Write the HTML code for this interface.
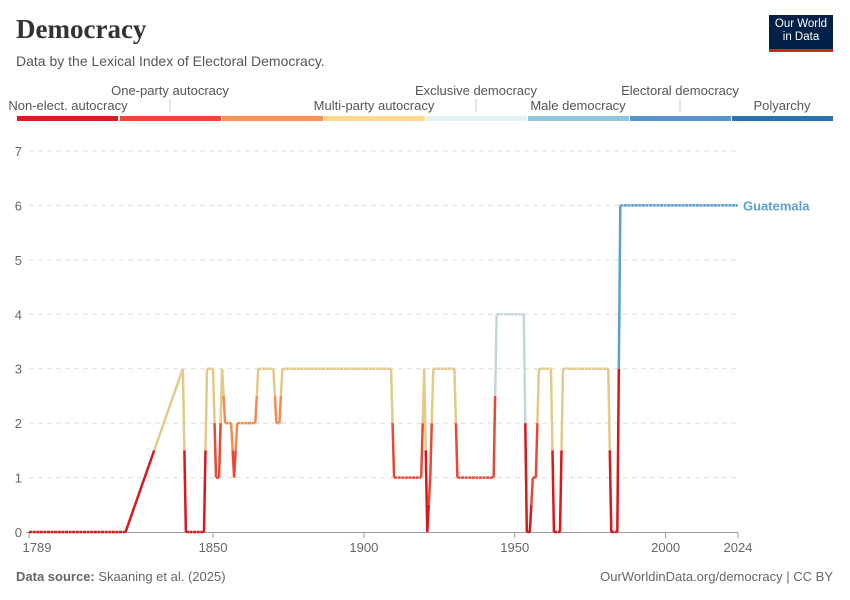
<!DOCTYPE html>
<html><head><meta charset="utf-8"><style>
body{margin:0;background:#fff;font-family:"Liberation Sans",sans-serif;}
#wrap{position:relative;width:850px;height:600px;overflow:hidden;}
.t{position:absolute;white-space:nowrap;}
</style></head><body>
<div id="wrap">
<div class="t" style="left:16px;top:14px;font-family:'Liberation Serif',serif;font-size:27px;font-weight:bold;color:#333;">Democracy</div>
<div class="t" style="left:16px;top:53px;font-size:14px;color:#555;">Data by the Lexical Index of Electoral Democracy.</div>
<div style="position:absolute;left:769px;top:15px;width:64px;height:37px;background:#002147;border-bottom:3px solid #ce261e;color:#fff;font-size:11.5px;line-height:13px;text-align:center;padding-top:3px;box-sizing:border-box;">Our World<br>in Data</div>
<svg id="svg" width="850" height="600" style="position:absolute;left:0;top:0"></svg>
<div class="t" style="left:16px;top:569px;font-size:13px;color:#666;"><b>Data source:</b> Skaaning et al. (2025)</div>
<div class="t" style="right:17px;top:569px;font-size:13px;color:#666;">OurWorldinData.org/democracy | CC BY</div>
</div>
<script>
const categories=["Non-elect. autocracy","One-party autocracy","","Multi-party autocracy","Exclusive democracy","Male democracy","Electoral democracy","Polyarchy"];
const years=[1789,1821,1840,1841,1847,1848,1849,1850,1851,1852,1853,1854,1856,1857,1858,1864,1865,1870,1871,1872,1873,1909,1910,1919,1920,1921,1922,1923,1930,1931,1943,1944,1953,1954,1955,1956,1957,1958,1962,1963,1965,1966,1981,1982,1984,1985,2024];
const values=[0,0,3,0,0,3,3,3,1,1,3,2,2,1,2,2,3,3,2,2,3,3,1,1,3,0,1,3,3,1,1,4,4,0,0,1,1,3,3,0,0,3,3,0,0,6,6];
const yTicks=[0,1,2,3,4,5,6,7];
const xTicks=[1789,1850,1900,1950,2000,2024];
const legendColors=["#d21f24","#e8483a","#f79454","#fcd98b","#e1f1f6","#92c5de","#5894c8","#2b73b0"];
const lineColors=["#d7191c","#e64a36","#f48a52","#e3c98a","#c3d6dc","#92c5de","#5b9fd0"];
const svg=document.getElementById('svg');
const NS="http://www.w3.org/2000/svg";
const X=y=>29+(y-1789)*(738-29)/235;
const Y=v=>532-v*(532-151)/7;
function mk(tag,attrs){const e=document.createElementNS(NS,tag);for(const k in attrs)e.setAttribute(k,attrs[k]);svg.appendChild(e);return e;}
const segW=(833-17)/8;
const upperRow=[1,4,6];
categories.forEach((c,i)=>{
  const r=mk('rect',{x:17+i*segW+(i?1:0),y:116,width:segW-1,height:5,fill:legendColors[i]});
  
  
  if(!c)return;
  const cx=17+i*segW+segW/2;
  const up=upperRow.includes(i);
  const t=mk('text',{x:cx,y:up?95:110,'text-anchor':'middle','font-size':13,fill:'#555'});
  t.textContent=c;
  
  
  if(up){const l=mk('line',{x1:cx,x2:cx,y1:99,y2:112,stroke:'#ccc'});
  
  }
});
yTicks.forEach(v=>{
  if(v>0){const g=mk('line',{x1:29,x2:738,y1:Y(v),y2:Y(v),stroke:'#ddd','stroke-dasharray':'5,4'});
  
  }
  const t=mk('text',{x:22,y:Y(v)+5,'text-anchor':'end','font-size':13,fill:'#666'});
  t.textContent=v;
  
  
});
const ax=mk('line',{x1:26,x2:738,y1:532.5,y2:532.5,stroke:'#999'});


xTicks.forEach(yr=>{
  const tk=mk('line',{x1:X(yr),x2:X(yr),y1:533,y2:538,stroke:'#999'});
  
  
  const t=mk('text',{x:X(yr)+(yr===1789?8:0),y:552,'text-anchor':'middle','font-size':13,fill:'#666'});
  t.textContent=yr;
  
  
});
for(let i=0;i<years.length-1;i++){
  const x1=X(years[i]),y1=Y(values[i]),x2=X(years[i+1]),y2=Y(values[i+1]);
  if(values[i]===values[i+1]){
    const l=mk('line',{x1,y1,x2,y2,stroke:lineColors[values[i]],'stroke-width':2.5,'stroke-dasharray':'3,0.6'});
    
    
  } else {
    const mx=(x1+x2)/2,my=(y1+y2)/2;
    const a=mk('line',{x1,y1,x2:mx,y2:my,stroke:lineColors[values[i]],'stroke-width':2.5});
    
    
    const b=mk('line',{x1:mx,y1:my,x2,y2,stroke:lineColors[values[i+1]],'stroke-width':2.5});
    
    
  }
}
const lab=mk('text',{x:743,y:Y(values[values.length-1])+5,'font-size':13,'font-weight':'bold',fill:'#5b9fd0'});
lab.textContent='Guatemala';


</script>
</body></html>
